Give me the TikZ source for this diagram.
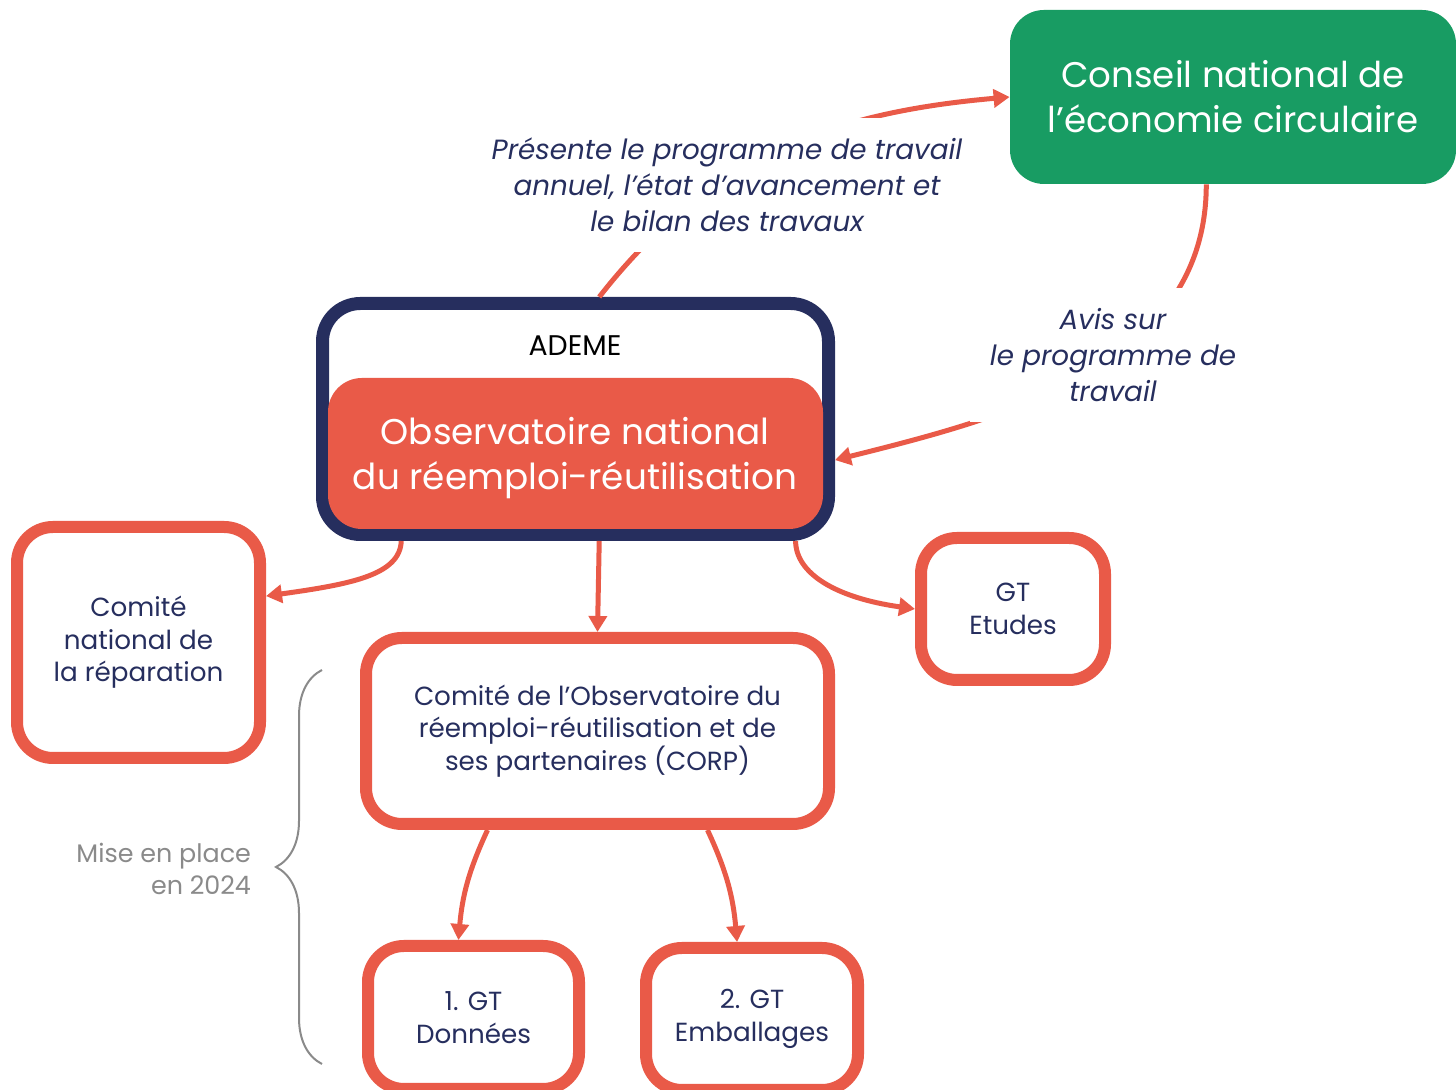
\documentclass[tikz,border=0pt]{standalone}
\usepackage{fontspec}
\setmainfont{Poppins}
\usetikzlibrary{arrows.meta,decorations.pathreplacing}
\definecolor{rouge}{HTML}{E95A48}
\definecolor{marine}{HTML}{262E5E}
\definecolor{vert}{HTML}{189C63}
\definecolor{gris}{HTML}{8A8A8A}

\begin{document}
\begin{tikzpicture}[x=0.5pt,y=0.5pt,
  box/.style={draw=rouge,line width=6pt,rounded corners=18pt,fill=white,text=marine,
    align=center,inner sep=0pt,font=\fontsize{13.1}{16.25}\selectfont},
  fleche/.style={draw=rouge,line width=2.5pt,-{Triangle[length=8pt,width=9pt]}},
  avis/.style={fill=white,text=marine,align=center,inner sep=10pt,
    font=\itshape\fontsize{13.9}{18}\selectfont}]
\useasboundingbox (0,0) rectangle (1456,1090);

% boxes
\node[fill=vert,rounded corners=17pt,minimum width=223pt,minimum height=87pt,text=white,
  align=center,font=\fontsize{17.8}{22.5}\selectfont] (cnec) at (1233,993)
  {Conseil national de\\l’économie circulaire};
\node[draw=marine,fill=white,line width=6.5pt,rounded corners=19pt,
  minimum width=253pt,minimum height=115.5pt] (ademe) at (575.5,671) {};
\node[fill=rouge,rounded corners=17pt,minimum width=247.5pt,minimum height=75.5pt] (obs) at (575.5,636.5) {};
\node[font=\fontsize{14.2}{16}\selectfont] (ademetxt) at (575,744) {ADEME};
\node[text=white,align=center,font=\fontsize{17.9}{22.5}\selectfont] (obstxt) at (575,632)
  {Observatoire national\\du réemploi-réutilisation};
\node[box,minimum width=121.5pt,minimum height=115.5pt] (rep) at (138.5,447.5)
  {Comité\\national de\\la réparation};
\node[box,minimum width=231.5pt,minimum height=93pt] (corp) at (597.5,359)
  {Comité de l’Observatoire du\\réemploi-réutilisation et de\\ses partenaires (CORP)};
\node[box,minimum width=92pt,minimum height=71pt] (etudes) at (1013,481) {GT\\Etudes};
\node[box,minimum width=105.5pt,minimum height=71.5pt] (donnees) at (473.5,72.5) {1. GT\\Données};
\node[box,minimum width=106pt,minimum height=71pt] (emb) at (752,71) {2. GT\\Emballages};

% arrows
\draw[fleche] (ademe.79) to[out=52,in=185] (cnec.west);
\draw[fleche] (cnec.-107) to[out=-90,in=14] (ademe.-9);
\draw[fleche] (ademe.-145) to[out=-92,in=8,out looseness=0.6,in looseness=1.5] (rep.20);
\draw[fleche] (ademe.-79.5) -- (corp.north);
\draw[fleche] (ademe.-29.8) to[out=-90,in=172,out looseness=0.6,in looseness=1.5] (etudes.west);
\draw[fleche] (corp.-138.3) to[out=-115,in=85] (donnees.101.5);
\draw[fleche] (corp.-42.2) to[out=-65,in=95] (emb.101.9);

% labels
\node[avis] (presente) at (727,905)
  {Présente le programme de travail\\annuel, l’état d’avancement et\\le bilan des travaux};
\node[avis] (avissur) at (1113,735) {Avis sur\\le programme de\\travail};

% mise en place
\draw[gris,line width=1pt,decorate,decoration={brace,amplitude=23pt}] (322,26) -- (322,420);
\node[anchor=east,text=gris,align=right,font=\fontsize{12.7}{16.25}\selectfont] (mise) at (258,221)
  {Mise en place\\en 2024};
\end{tikzpicture}
\end{document}
